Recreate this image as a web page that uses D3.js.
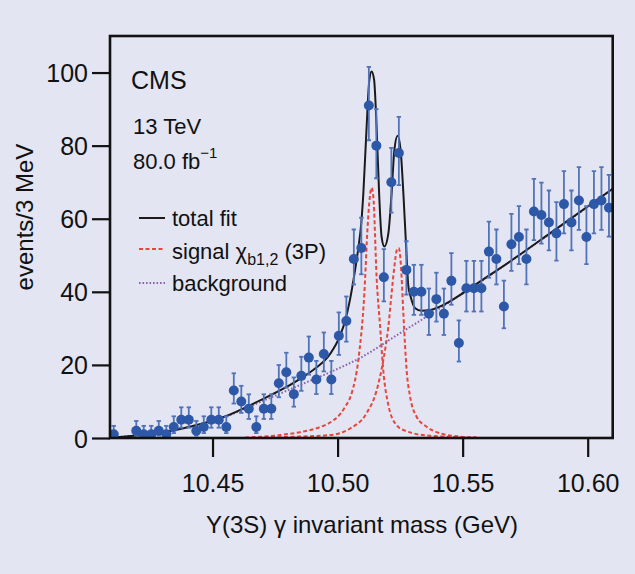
<!DOCTYPE html>
<html><head><meta charset="utf-8">
<script src="https://cdn.jsdelivr.net/npm/d3@7"></script>
<style>html,body{margin:0;padding:0;background:#e3e5f2;} svg{display:block;}</style>
</head><body><svg id="c" width="635" height="574"></svg>
<script>
// ---- data ----
const binMass = [10.4105,10.4195,10.4225,10.4255,10.4285,10.4315,10.4345,10.4375,10.4405,10.4435,10.4465,10.4495,10.4525,10.4555,10.4585,10.4615,10.4645,10.4675,10.4705,10.4735,10.4765,10.4795,10.4825,10.4855,10.4885,10.4915,10.4945,10.4975,10.5005,10.5035,10.5065,10.5095,10.5125,10.5155,10.5185,10.5215,10.5245,10.5275,10.5305,10.5335,10.5365,10.5395,10.5425,10.5455,10.5485,10.5515,10.5545,10.5575,10.5605,10.5635,10.5665,10.5695,10.5725,10.5755,10.5785,10.5815,10.5845,10.5875,10.5905,10.5935,10.5965,10.5995,10.6025,10.6055,10.6085];
const binCounts = [1,2,1,1,2,1,3,5,5,2,3,5,5,3,13,10,8,3,8,8,15,18,12,17,22,16,23,16,28,32,49,52,91,80,44,70,78,46,40,40,34,38,34,43,26,41,41,41,51,49,36,53,55,49,62,61,59,56,64,59,65,55,64,65,63];

const fitMass  = [10.4090,10.4250,10.4410,10.4550,10.4690,10.4770,10.4850,10.4910,10.4970,10.5010,10.5030,10.5050,10.5070,10.5083,10.5095,10.5103,10.5116,10.5127,10.5136,10.5146,10.5156,10.5166,10.5176,10.5187,10.5203,10.5216,10.5227,10.5240,10.5252,10.5263,10.5274,10.5283,10.5292,10.5310,10.5336,10.5370,10.5423,10.5489,10.5569,10.5689,10.5849,10.6100];
const fitValue = [0.1,1.1,3.1,5.9,10.3,13,16.2,19,23,28,32,38,46,52,59,67,85,98,100.3,98,85,67,55,52.4,56,67,78.8,82.7,78.8,67,52.4,41.5,38.7,35.5,34.8,35,36.4,39.1,42.8,48.3,56,68.2];

const bgMass  = [10.4090,10.4250,10.4410,10.4550,10.4690,10.4850,10.4970,10.5090,10.5250,10.5370,10.5501,10.5629,10.5849,10.6100];
const bgValue = [0.1,1.1,3.1,5.8,9.8,14.5,18,21.9,28.7,33.8,39.6,45.4,55.9,68.2];

const sig1Mass  = [10.4630,10.4770,10.4850,10.4930,10.4976,10.5010,10.5030,10.5056,10.5083,10.5107,10.5120,10.5129,10.5136,10.5143,10.5156,10.5170,10.5182,10.5203,10.5236,10.5270,10.5370,10.5557];
const sig1Value = [0.1,0.8,1.6,3,4.5,6.5,8.5,12.2,21.4,39.6,57.8,66,68.5,66,44,30.5,19,9,3.5,2,0.6,0.1];

const sig2Mass  = [10.4630,10.4850,10.4970,10.5050,10.5116,10.5156,10.5183,10.5203,10.5216,10.5227,10.5237,10.5244,10.5250,10.5256,10.5263,10.5270,10.5276,10.5290,10.5316,10.5356,10.5410,10.5489,10.5557];
const sig2Value = [0.05,0.4,0.8,2.6,6.8,13,21.4,30.5,39.6,46.9,51.5,52,50,44,34,25,18.6,11.3,5.8,3.1,1.3,0.4,0.1];

const xTicks = [10.45,10.50,10.55,10.60];
const yTicks = [0,20,40,60,80,100];

// ---- drawing ----
const FONT = '"Liberation Sans", Arial, sans-serif';
const svg = d3.select('#c');
const L = 110, T = 36, R = 612.7, B = 438;
const x = d3.scaleLinear().domain([10.409, 10.61]).range([L, R]);
const y = d3.scaleLinear().domain([0, 110]).range([B, T]);

svg.append('defs').append('clipPath').attr('id','clip')
  .append('rect').attr('x',L).attr('y',T).attr('width',R-L).attr('height',B-T);

const plot = svg.append('g').attr('clip-path','url(#clip)');
const line = d3.line().x(d=>x(d[0])).y(d=>y(d[1])).curve(d3.curveMonotoneX);
const pairs = (m,v)=>m.map((d,i)=>[d,v[i]]);

plot.append('path').attr('d', line(pairs(sig1Mass,sig1Value)))
  .attr('fill','none').attr('stroke','#e8453c').attr('stroke-width',2).attr('stroke-dasharray','4,2.5');
plot.append('path').attr('d', line(pairs(sig2Mass,sig2Value)))
  .attr('fill','none').attr('stroke','#e8453c').attr('stroke-width',2).attr('stroke-dasharray','4,2.5');
plot.append('path').attr('d', line(pairs(bgMass,bgValue)))
  .attr('fill','none').attr('stroke','#8e62ad').attr('stroke-width',2).attr('stroke-dasharray','1.6,1.9');
plot.append('path').attr('d', line(pairs(fitMass,fitValue)))
  .attr('fill','none').attr('stroke','#1a1a1a').attr('stroke-width',2);

// data points with Poisson (Gehrels) error bars
const pts = binMass.map((m,i)=>{const n=binCounts[i];return {m,n,hi:n+Math.sqrt(n+0.75)+1,lo:n-Math.sqrt(Math.max(n-0.25,0))};});
const eb = plot.append('g').attr('stroke','#5273b8').attr('stroke-width',1.8);
eb.selectAll('line.v').data(pts).join('line').attr('class','v')
  .attr('x1',d=>x(d.m)).attr('x2',d=>x(d.m)).attr('y1',d=>y(d.lo)).attr('y2',d=>y(d.hi));
eb.selectAll('line.t').data(pts).join('line').attr('class','t')
  .attr('x1',d=>x(d.m)-2.2).attr('x2',d=>x(d.m)+2.2).attr('y1',d=>y(d.hi)).attr('y2',d=>y(d.hi));
eb.selectAll('line.b').data(pts).join('line').attr('class','b')
  .attr('x1',d=>x(d.m)-2.2).attr('x2',d=>x(d.m)+2.2).attr('y1',d=>y(d.lo)).attr('y2',d=>y(d.lo));
plot.append('g').selectAll('circle').data(pts).join('circle')
  .attr('cx',d=>x(d.m)).attr('cy',d=>y(d.n)).attr('r',5).attr('fill','#2d57a7');

// axes
const ya = svg.append('g').attr('transform',`translate(${L},0)`)
  .call(d3.axisLeft(y).tickValues(yTicks).tickSize(18).tickPadding(4));
ya.select('.domain').remove();
ya.selectAll('line').attr('stroke','#111').attr('stroke-width',2.2);
ya.selectAll('text').attr('font-family',FONT).attr('font-size',25).attr('fill','#111').attr('dy','0.36em');

const xa = svg.append('g').attr('transform',`translate(0,${B})`)
  .call(d3.axisBottom(x).tickValues(xTicks).tickFormat(d3.format('.2f')).tickSize(19));
xa.select('.domain').remove();
xa.selectAll('line').attr('stroke','#111').attr('stroke-width',2.2);
xa.selectAll('text').attr('font-family',FONT).attr('font-size',25).attr('fill','#111').attr('y',54).attr('dy',null);

// frame
svg.append('rect').attr('x',L).attr('y',T).attr('width',R-L).attr('height',B-T)
  .attr('fill','none').attr('stroke','#111').attr('stroke-width',2.6);

// axis titles
svg.append('text').attr('transform','translate(33,217) rotate(-90)').attr('text-anchor','middle')
  .attr('font-family',FONT).attr('font-size',24).attr('fill','#111').text('events/3 MeV');
svg.append('text').attr('x',362).attr('y',533).attr('text-anchor','middle')
  .attr('font-family',FONT).attr('font-size',24).attr('fill','#111').text('Υ(3S) γ invariant mass (GeV)');

// annotations
const ann = svg.append('g').attr('font-family',FONT).attr('fill','#111');
ann.append('text').attr('x',131).attr('y',89).attr('font-size',25).text('CMS');
ann.append('text').attr('x',133).attr('y',134).attr('font-size',22).text('13 TeV');
const lum = ann.append('text').attr('x',133).attr('y',169).attr('font-size',22);
lum.append('tspan').text('80.0 fb');
lum.append('tspan').attr('dy',-11).attr('font-size',15).text('−1');

// legend
const lg = svg.append('g').attr('font-family',FONT).attr('fill','#111');
const legendRows = [
  {y:218, stroke:'#1a1a1a', dash:null, w:2},
  {y:249, stroke:'#e8453c', dash:'4,2.5', w:2},
  {y:283, stroke:'#8e62ad', dash:'1.6,1.9', w:2}
];
legendRows.forEach(r=>{
  lg.append('line').attr('x1',139).attr('x2',165).attr('y1',r.y).attr('y2',r.y)
    .attr('stroke',r.stroke).attr('stroke-width',r.w).attr('stroke-dasharray',r.dash);
});
lg.append('text').attr('x',172).attr('y',226).attr('font-size',22).text('total fit');
const st = lg.append('text').attr('x',172).attr('y',259).attr('font-size',22);
st.append('tspan').text('signal χ');
st.append('tspan').attr('dy',6).attr('font-size',16).text('b1,2');
st.append('tspan').attr('dy',-6).attr('font-size',22).text(' (3P)');
lg.append('text').attr('x',172).attr('y',291).attr('font-size',22).text('background');
</script></body></html>
